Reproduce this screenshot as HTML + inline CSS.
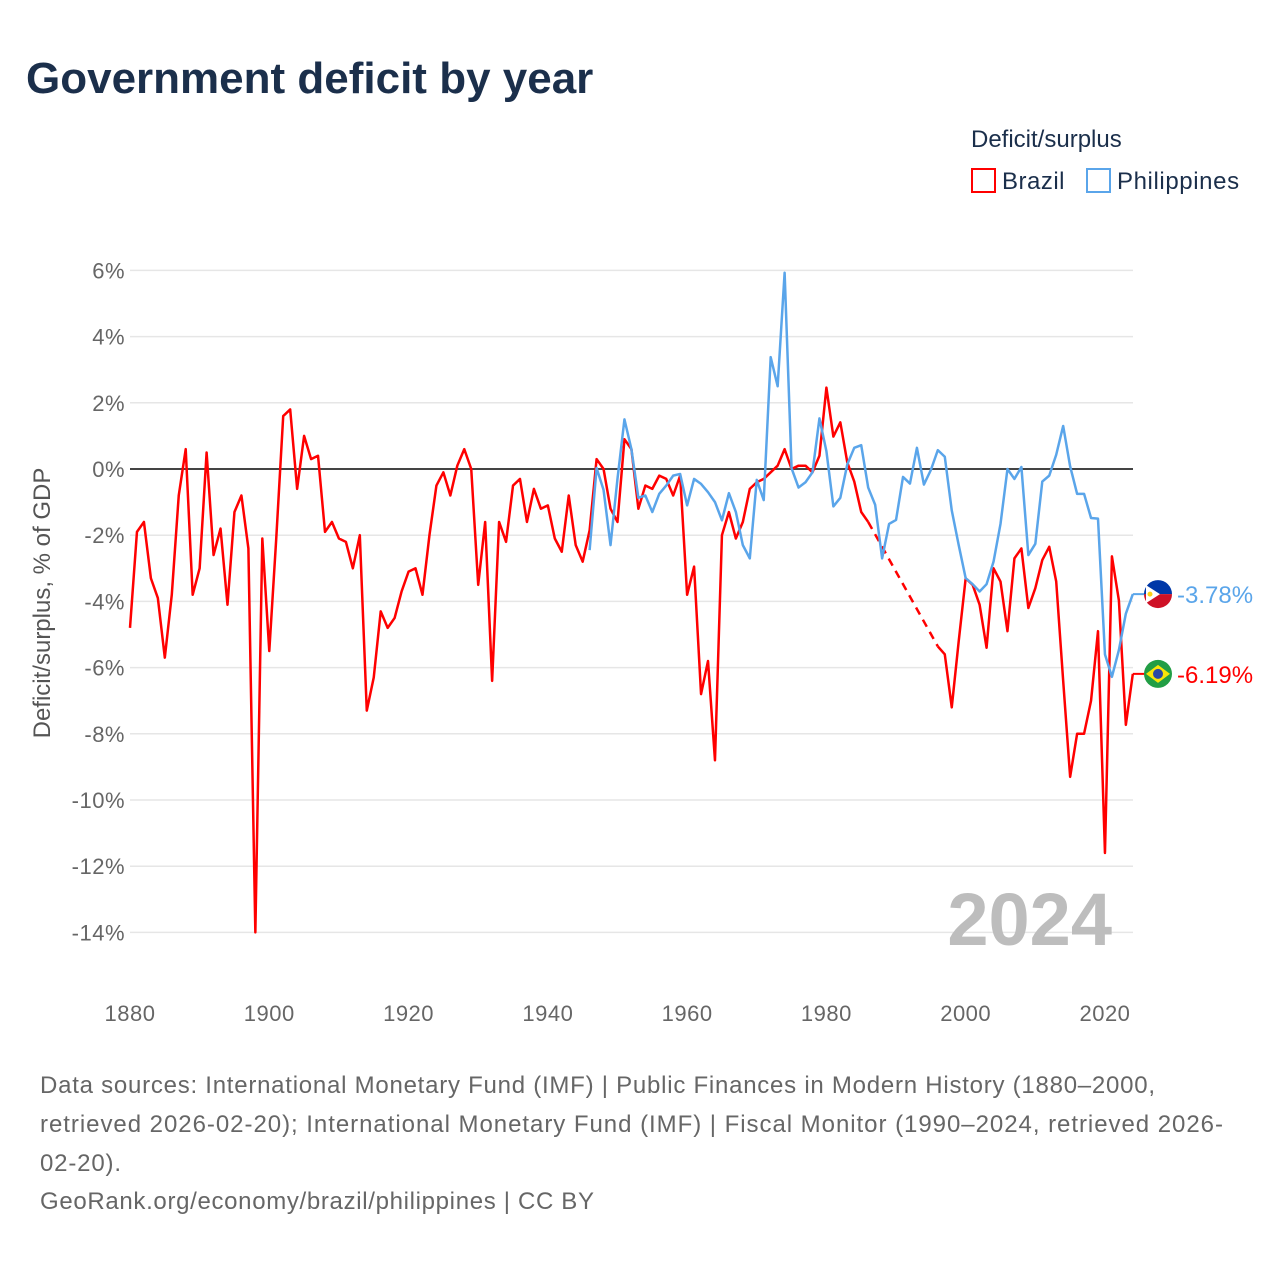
<!DOCTYPE html>
<html><head><meta charset="utf-8"><style>
html,body{margin:0;padding:0;background:#fff;width:1280px;height:1280px;overflow:hidden;font-family:"Liberation Sans",sans-serif}
</style></head><body>
<svg id="chart" width="1280" height="1280" xmlns="http://www.w3.org/2000/svg" font-family="Liberation Sans, sans-serif">
<text x="26" y="93" font-size="44" font-weight="bold" fill="#1b2f4b">Government deficit by year</text>
<text x="971" y="147" font-size="24" fill="#1b2f4b">Deficit/surplus</text>
<g><rect x="972" y="169" width="23" height="23" fill="none" stroke="#ff0000" stroke-width="2"/><text x="1002" y="189" font-size="24" fill="#1b2f4b" letter-spacing="0.5">Brazil</text></g>
<g><rect x="1087" y="169" width="23" height="23" fill="none" stroke="#5aa5ea" stroke-width="2"/><text x="1117" y="189" font-size="24" fill="#1b2f4b" letter-spacing="0.6">Philippines</text></g>
<text transform="translate(50,603) rotate(-90)" text-anchor="middle" font-size="24" fill="#555">Deficit/surplus, % of GDP</text>
<g id="grid"></g><g id="xt"></g><g id="series"></g>
<text x="1112" y="945" text-anchor="end" font-size="74" font-weight="bold" fill="#bdbdbd">2024</text>
<g font-size="24" fill="#666">
<text x="40" y="1093" textLength="1115" lengthAdjust="spacing">Data sources: International Monetary Fund (IMF) | Public Finances in Modern History (1880–2000,</text>
<text x="40" y="1132" textLength="1183" lengthAdjust="spacing">retrieved 2026-02-20); International Monetary Fund (IMF) | Fiscal Monitor (1990–2024, retrieved 2026-</text>
<text x="40" y="1171" textLength="81" lengthAdjust="spacing">02-20).</text>
<text x="40" y="1209" textLength="554" lengthAdjust="spacing">GeoRank.org/economy/brazil/philippines | CC BY</text>
</g>
</svg>
<script>
const yTicks=[6,4,2,0,-2,-4,-6,-8,-10,-12,-14];
const xTicks=[1880,1900,1920,1940,1960,1980,2000,2020];
const brazilStart=1880;
const brazil=[-4.8,-1.9,-1.6,-3.3,-3.9,-5.7,-3.8,-0.8,0.6,-3.8,-3.0,0.5,-2.6,-1.8,-4.1,-1.3,-0.8,-2.4,-14.0,-2.1,
-5.5,-2.1,1.6,1.8,-0.6,1.0,0.3,0.4,-1.9,-1.6,-2.1,-2.2,-3.0,-2.0,-7.3,-6.3,-4.3,-4.8,-4.5,-3.7,
-3.1,-3.0,-3.8,-2.0,-0.5,-0.1,-0.8,0.1,0.6,0.0,-3.5,-1.6,-6.4,-1.6,-2.2,-0.5,-0.3,-1.6,-0.6,-1.2,
-1.1,-2.1,-2.5,-0.8,-2.3,-2.8,-1.85,0.3,0.0,-1.2,-1.6,0.9,0.6,-1.2,-0.5,-0.6,-0.2,-0.3,-0.8,-0.2,
-3.8,-2.95,-6.8,-5.8,-8.8,-2.0,-1.3,-2.1,-1.6,-0.6,-0.4,-0.3,-0.1,0.1,0.6,0.0,0.1,0.1,-0.1,0.4,
2.46,0.98,1.41,0.2,-0.38,-1.3,-1.6,null,null,null,null,null,null,null,null,null,-5.36,-5.6,-7.2,-5.2,
-3.3,-3.5,-4.1,-5.4,-3.0,-3.4,-4.9,-2.7,-2.4,-4.2,-3.6,-2.75,-2.35,-3.4,-6.4,-9.3,-8.0,-8.0,-7.0,-4.9,
-11.6,-2.64,-3.97,-7.73,-6.19];
const phStart=1946;
const philippines=[-2.45,0.03,-0.63,-2.3,-0.3,1.5,0.6,-0.87,-0.8,-1.3,-0.75,-0.5,-0.2,-0.15,-1.1,-0.3,-0.45,-0.7,-1.0,-1.55,
-0.73,-1.3,-2.3,-2.7,-0.33,-0.94,3.38,2.5,5.93,0.02,-0.56,-0.4,-0.1,1.53,0.54,-1.13,-0.87,0.14,0.64,0.72,
-0.56,-1.08,-2.7,-1.66,-1.54,-0.24,-0.44,0.64,-0.47,-0.03,0.57,0.37,-1.25,-2.3,-3.3,-3.48,-3.7,-3.48,-2.8,-1.66,
0,-0.3,0.06,-2.6,-2.26,-0.38,-0.2,0.43,1.3,0.08,-0.75,-0.75,-1.48,-1.5,-5.6,-6.28,-5.47,-4.37,-3.78];
const NS='http://www.w3.org/2000/svg';
const X=yr=>130+(yr-1880)*6.964;
const Y=v=>469-v*33.1;
function mk(t,a,p){const e=document.createElementNS(NS,t);for(const k in a)e.setAttribute(k,a[k]);p.appendChild(e);return e;}
const grid=document.getElementById('grid');
yTicks.forEach(v=>{
  const l=mk('line',{x1:130,x2:1133,y1:Y(v),y2:Y(v),stroke:v===0?'#444':'#e6e6e6','stroke-width':v===0?2:1.5},grid);
  
  
  const t=mk('text',{x:125,y:Y(v)+8,'text-anchor':'end','font-size':22,fill:'#666','letter-spacing':0.5},grid);
  t.textContent=v+'%';
  
  
});
const xt=document.getElementById('xt');
xTicks.forEach(yr=>{
  const t=mk('text',{x:X(yr),y:1021,'text-anchor':'middle','font-size':22,fill:'#666','letter-spacing':0.5},xt);
  t.textContent=yr;
  
  
});
const S=document.getElementById('series');
function draw(arr,start,color,name){
  let segs=[],cur=[],lastPt=null,dashes=[];
  arr.forEach((v,i)=>{
    if(v===null){if(cur.length){segs.push(cur);lastPt=cur[cur.length-1];}cur=[];return;}
    const p=[X(start+i),Y(v)];
    if(!cur.length&&lastPt){dashes.push([lastPt,p]);lastPt=null;}
    cur.push(p);
  });
  if(cur.length)segs.push(cur);
  segs.forEach(s=>{
    const e=mk('polyline',{points:s.map(p=>p.join(',')).join(' '),fill:'none',stroke:color,'stroke-width':2.5,'stroke-linejoin':'round'},S);
    
    
  });
  dashes.forEach(d=>{
    const e=mk('line',{x1:d[0][0],y1:d[0][1],x2:d[1][0],y2:d[1][1],stroke:color,'stroke-width':2.5,'stroke-dasharray':'8,6'},S);
    
    
  });
  const lv=arr[arr.length-1];const lx=X(start+arr.length-1);
  const c=mk('line',{x1:lx,y1:Y(lv),x2:1158,y2:Y(lv),stroke:color,'stroke-width':2},S);
  
  
  return lv;
}
const bv=draw(brazil,brazilStart,'#ff0000','brazil');
const pv=draw(philippines,phStart,'#5aa5ea','philippines');
const fp=mk('g',{},S);


const py=Y(pv);
mk('path',{d:`M1144,${py} A14,14 0 0 1 1172,${py} Z`,fill:'#0038a8'},fp);
mk('path',{d:`M1144,${py} A14,14 0 0 0 1172,${py} Z`,fill:'#ce1126'},fp);
mk('path',{d:`M1146,${py-9} L1160,${py} L1146,${py+9} Z`,fill:'#fff'},fp);
mk('circle',{cx:1150,cy:py,r:2.5,fill:'#fcd116'},fp);
const fb=mk('g',{},S);


const by=Y(bv);
mk('circle',{cx:1158,cy:by,r:14,fill:'#229e45'},fb);
mk('path',{d:`M1146,${by} L1158,${by-9} L1170,${by} L1158,${by+9} Z`,fill:'#f8e509'},fb);
mk('circle',{cx:1158,cy:by,r:5,fill:'#2b49a3'},fb);
const lp=mk('text',{x:1177,y:py+9,'font-size':24,fill:'#5aa5ea'},S);
lp.textContent=pv.toFixed(2)+'%';


const lb=mk('text',{x:1177,y:by+9,'font-size':24,fill:'#ff0000'},S);
lb.textContent=bv.toFixed(2)+'%';


</script>
</body></html>
